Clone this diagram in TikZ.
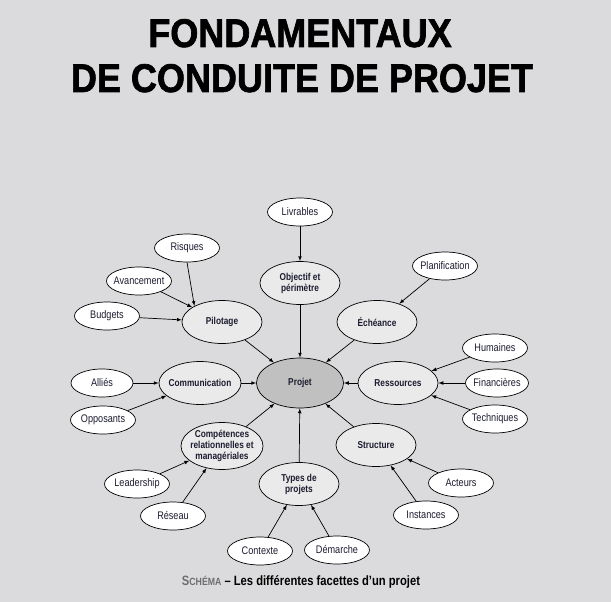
\documentclass[tikz,border=0pt]{standalone}
\usepackage{fontspec}
\setmainfont{Liberation Sans}[FakeStretch=0.83]
\newfontfamily\titrefont{Liberation Sans}[FakeStretch=0.9,FakeBold=1.6]
\usetikzlibrary{shapes.geometric}
\usetikzlibrary{positioning}
\definecolor{fond}{RGB}{219,219,221}
\definecolor{clair}{RGB}{234,234,234}
\definecolor{centre}{RGB}{192,192,192}
\definecolor{encre}{RGB}{28,28,48}
\definecolor{legende}{RGB}{110,110,110}

\begin{document}
\begin{tikzpicture}[x=1pt,y=-1pt,>=latex,every node/.style={text=encre},
    facette/.style={ellipse,draw,fill=clair,line width=0.7pt,align=center,
        font=\bfseries\fontsize{10}{11}\selectfont,inner xsep=-6pt,inner ysep=-5pt,
        minimum width=80pt,minimum height=43pt},
    detail/.style={ellipse,draw,fill=white,line width=0.7pt,
        font=\fontsize{11}{12}\selectfont,inner xsep=-4pt,inner ysep=-2pt,
        minimum width=65pt,minimum height=28pt},
    lien/.style={->,line width=0.7pt}]

    \fill[fond] (0,0) rectangle (611,602);
    \useasboundingbox (0,0) rectangle (611,602);

    % titre
    \node[anchor=base,font=\titrefont\bfseries\fontsize{40}{45}\selectfont,text=black] (titre1) at (300,47) {FONDAMENTAUX};
    \node[anchor=base,font=\titrefont\bfseries\fontsize{40}{45}\selectfont,text=black] (titre2) at (302,92) {DE CONDUITE DE PROJET};

    % centre et facettes
    \node[facette,fill=centre,minimum width=87pt,minimum height=50pt] (projet) at (300,383) {Projet};
    \node[facette] (objectif) at (300,283) {Objectif et\\périmètre};
    \node[facette] (pilotage) at (222,322) {Pilotage};
    \node[facette] (echeance) at (377,322) {Échéance};
    \node[facette,minimum width=82pt] (communication) at (200,383) {Communication};
    \node[facette] (ressources) at (398,383) {Ressources};
    \node[facette,minimum width=82pt,minimum height=47pt] (competences) at (222,446) {Compétences\\relationnelles et\\managériales};
    \node[facette] (structure) at (376,445) {Structure};
    \node[facette] (types) at (299,484) {Types de\\projets};

    % details
    \node[detail] (livrables) at (300,212) {Livrables};
    \node[detail] (risques) at (187,248) {Risques};
    \node[detail] (avancement) at (139,281) {Avancement};
    \node[detail] (budgets) at (107,316) {Budgets};
    \node[detail] (planification) at (445,266) {Planification};
    \node[detail,minimum width=62pt] (allies) at (102,383) {Alliés};
    \node[detail] (opposants) at (103,420) {Opposants};
    \node[detail] (humaines) at (495,348) {Humaines};
    \node[detail,minimum width=63pt] (financieres) at (497,383) {Financières};
    \node[detail] (techniques) at (495,419) {Techniques};
    \node[detail] (leadership) at (137,484) {Leadership};
    \node[detail] (reseau) at (173,516) {Réseau};
    \node[detail] (acteurs) at (461,483) {Acteurs};
    \node[detail] (instances) at (426,515) {Instances};
    \node[detail] (contexte) at (260,551) {Contexte};
    \node[detail] (demarche) at (337,550) {Démarche};

    % liens
    \draw[lien] (livrables) -- (objectif);
    \draw[lien] (objectif) -- (projet);
    \draw[lien] (risques.south) -- (pilotage.150);
    \draw[lien] (avancement) -- (pilotage);
    \draw[lien] (budgets) -- (pilotage);
    \draw[lien] (pilotage) -- (projet);
    \draw[lien] (planification) -- (echeance);
    \draw[lien] (echeance) -- (projet);
    \draw[lien] (allies) -- (communication);
    \draw[lien] (opposants) -- (communication);
    \draw[lien] (communication) -- (projet);
    \draw[lien] (humaines) -- (ressources);
    \draw[lien] (financieres) -- (ressources);
    \draw[lien] (techniques) -- (ressources);
    \draw[lien] (ressources) -- (projet);
    \draw[lien] (leadership) -- (competences);
    \draw[lien] (reseau) -- (competences);
    \draw[lien] (competences) -- (projet);
    \draw[lien] (acteurs) -- (structure);
    \draw[lien] (instances) -- (structure);
    \draw[lien] (structure) -- (projet);
    \draw[lien] (contexte) -- (types);
    \draw[lien] (demarche) -- (types);
    \draw[lien] (types) -- (projet);

    % legende
    \node[anchor=base,font=\bfseries\fontsize{13.5}{15}\selectfont,text=black] (legende) at (301,585)
        {{\color{legende}S\fontsize{10.5}{12}\selectfont CHÉMA} – Les différentes facettes d’un projet};
\end{tikzpicture}
\end{document}
